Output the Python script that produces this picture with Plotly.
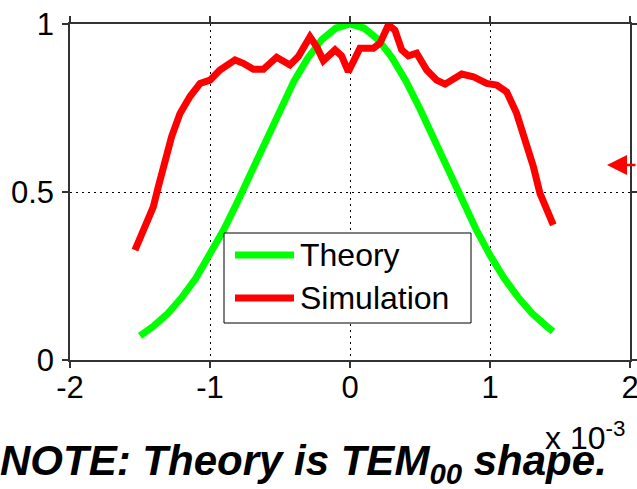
import plotly.graph_objects as go

# ---- data (x in units of 1e-3) ----
theory_x = [-1.5, -1.4, -1.3, -1.2, -1.1, -1.0, -0.9, -0.8, -0.7, -0.6, -0.5, -0.4, -0.3, -0.2, -0.1, 0.0,
            0.1, 0.2, 0.3, 0.4, 0.5, 0.6, 0.7, 0.8, 0.9, 1.0, 1.1, 1.2, 1.3, 1.4, 1.45]
theory_y = [0.072, 0.102, 0.139, 0.187, 0.244, 0.312, 0.389, 0.474, 0.565, 0.657, 0.747, 0.830, 0.900, 0.954, 0.988, 1.0,
            0.988, 0.954, 0.900, 0.830, 0.747, 0.657, 0.565, 0.474, 0.389, 0.312, 0.244, 0.187, 0.139, 0.102, 0.085]

sim_x = [-1.536, -1.464, -1.405, -1.369, -1.321, -1.274, -1.214, -1.143, -1.071, -1.0, -0.929, -0.821, -0.762,
         -0.690, -0.619, -0.524, -0.429, -0.369, -0.286, -0.238, -0.190, -0.107, -0.060, -0.012, 0.071, 0.167,
         0.214, 0.274, 0.321, 0.369, 0.417, 0.476, 0.548, 0.619, 0.679, 0.738, 0.798, 0.881, 0.976, 1.048,
         1.119, 1.190, 1.250, 1.310, 1.357, 1.405, 1.452]
sim_y = [0.327, 0.397, 0.456, 0.516, 0.595, 0.665, 0.734, 0.784, 0.823, 0.833, 0.863, 0.893, 0.883,
         0.865, 0.865, 0.901, 0.878, 0.903, 0.962, 0.932, 0.891, 0.923, 0.905, 0.858, 0.928, 0.928,
         0.943, 0.997, 0.982, 0.923, 0.905, 0.913, 0.863, 0.833, 0.821, 0.838, 0.851, 0.843, 0.823, 0.818,
         0.798, 0.734, 0.655, 0.575, 0.496, 0.446, 0.402]

series_names = ["Theory", "Simulation"]
series_colors = ["#00ff00", "#ff0000"]
x_ticks = [-2, -1, 0, 1, 2]
x_ticktext = ["-2", "-1", "0", "1", "2"]
y_ticks = [0, 0.5, 1]
y_ticktext = ["0", "0.5", "1"]

W, H = 637, 489
ML, MR, MT, MB = 70, 7, 24, 129
PW, PH = W - ML - MR, H - MT - MB


def px(xp):
    return (xp - ML) / PW


def py(yp):
    return (H - MB - yp) / PH


FONT = "Liberation Sans, Arial, sans-serif"

fig = go.Figure()
fig.add_trace(go.Scatter(x=theory_x, y=theory_y, mode="lines", name=series_names[0],
                         line=dict(color=series_colors[0], width=7), showlegend=False))
fig.add_trace(go.Scatter(x=sim_x, y=sim_y, mode="lines", name=series_names[1],
                         line=dict(color=series_colors[1], width=7), showlegend=False))

axis_common = dict(
    showline=True, linecolor="#333333", linewidth=1.5, mirror="ticks",
    ticks="outside", ticklen=6, tickcolor="#333333", tickwidth=1.5,
    showgrid=True, gridcolor="#000000", gridwidth=1, griddash="2px,4px",
    zeroline=False, automargin=False, ticklabeloverflow="allow",
    tickfont=dict(family=FONT, size=31, color="#000000"),
)
fig.update_xaxes(range=[-2, 2], tickvals=x_ticks, ticktext=x_ticktext, ticklabelstandoff=-7, **axis_common)
fig.update_yaxes(range=[0, 1], tickvals=y_ticks, ticktext=y_ticktext, ticklabelstandoff=2, **axis_common)

# manual legend box
shapes = [dict(type="rect", xref="paper", yref="paper", x0=px(224), x1=px(471), y0=py(323), y1=py(233),
               line=dict(color="#000000", width=1), fillcolor="#ffffff", layer="above")]
annotations = []
for i, (nm, col) in enumerate(zip(series_names, series_colors)):
    cy = 255 + 43 * i
    shapes.append(dict(type="line", xref="paper", yref="paper", x0=px(235), x1=px(294), y0=py(cy), y1=py(cy),
                       line=dict(color=col, width=7), layer="above"))
    annotations.append(dict(text=nm, xref="paper", yref="paper", x=px(298), y=py(cy), xanchor="left",
                            yanchor="middle", showarrow=False, font=dict(family=FONT, size=32, color="#000000")))

annotations.append(dict(text="x 10<sup>-3</sup>", xref="paper", yref="paper", x=px(543), y=py(436),
                        xanchor="left", yanchor="middle", showarrow=False,
                        font=dict(family=FONT, size=32, color="#000000")))
annotations.append(dict(text="<b><i>NOTE: Theory is TEM<sub>00</sub> shape.</i></b>", xref="paper", yref="paper",
                        x=px(-2), y=py(463), xanchor="left", yanchor="middle", showarrow=False,
                        font=dict(family=FONT, size=42, color="#000000")))
annotations.append(dict(text="", xref="paper", yref="paper", x=px(607), y=py(165), ax=32, ay=0,
                        axref="pixel", ayref="pixel", showarrow=True, arrowhead=2, arrowsize=1.6,
                        arrowwidth=2.5, arrowcolor="#ff0000"))

fig.update_layout(
    width=W, height=H, margin=dict(l=ML, r=MR, t=MT, b=MB, autoexpand=False),
    paper_bgcolor="#ffffff", plot_bgcolor="#ffffff",
    shapes=shapes, annotations=annotations, showlegend=False,
    font=dict(family=FONT),
)

fig.write_html("out.html", config={"displayModeBar": False},
               post_script="document.body.style.margin='0';")
